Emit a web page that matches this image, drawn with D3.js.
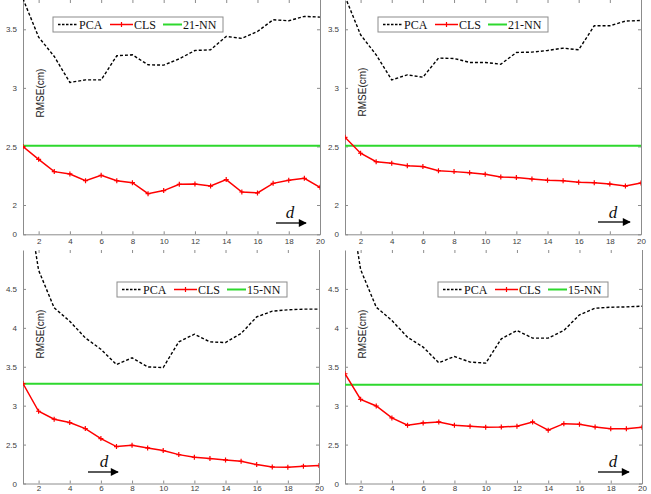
<!DOCTYPE html>
<html><head><meta charset="utf-8">
<script src="https://cdn.jsdelivr.net/npm/d3@7"></script>
<style>html,body{margin:0;padding:0;background:#fff;}svg{display:block;}</style>
</head><body>
<script>
// ---------- data ----------
const dValues = [1,2,3,4,5,6,7,8,9,10,11,12,13,14,15,16,17,18,19,20];
const xTickValues = [2,4,6,8,10,12,14,16,18,20];

const topYTicks = [1.75, 2, 2.5, 3, 3.5];
const topYTickLabels = ["0", "2", "2.5", "3", "3.5"];
const botYTicks = [2, 2.5, 3, 3.5, 4, 4.5];
const botYTickLabels = ["0", "2.5", "3", "3.5", "4", "4.5"];

const pcaTL = [3.76,3.433,3.268,3.046,3.068,3.068,3.274,3.282,3.197,3.194,3.248,3.319,3.325,3.439,3.422,3.481,3.581,3.573,3.61,3.604];
const clsTL = [2.499,2.39,2.285,2.265,2.208,2.254,2.208,2.191,2.097,2.123,2.177,2.179,2.162,2.217,2.111,2.103,2.185,2.211,2.228,2.151];
const nnTL = 2.505;

const pcaTR = [3.78,3.453,3.282,3.068,3.111,3.091,3.254,3.251,3.217,3.217,3.202,3.302,3.305,3.319,3.339,3.325,3.53,3.53,3.57,3.575];
const clsTR = [2.578,2.442,2.37,2.356,2.336,2.328,2.293,2.285,2.276,2.262,2.239,2.234,2.222,2.211,2.208,2.194,2.191,2.179,2.162,2.188];
const nnTR = 2.505;

const pcaBL = [6.0,4.741,4.257,4.085,3.871,3.725,3.528,3.614,3.498,3.49,3.82,3.918,3.82,3.811,3.927,4.141,4.214,4.231,4.24,4.24];
const clsBL = [3.284,2.928,2.826,2.783,2.706,2.577,2.474,2.491,2.457,2.423,2.371,2.337,2.32,2.303,2.286,2.243,2.213,2.209,2.222,2.23];
const nnBL = 3.28;

const pcaBR = [6.0,4.748,4.265,4.094,3.88,3.752,3.551,3.632,3.56,3.547,3.859,3.966,3.868,3.868,3.966,4.167,4.252,4.265,4.269,4.278];
const clsBR = [3.41,3.081,2.996,2.842,2.748,2.778,2.791,2.748,2.735,2.722,2.726,2.735,2.791,2.684,2.769,2.761,2.726,2.705,2.705,2.722];
const nnBR = 3.27;

const legendLabelsTop = ["PCA", "CLS", "21-NN"];
const legendLabelsBot = ["PCA", "CLS", "15-NN"];

// ---------- layout ----------
const W = 651, H = 494;
const panels = [
  {x0:23, x1:320, y0:0, y1:234.3, dom:[1.75,3.75], ticks:topYTicks, tlabels:topYTickLabels, xpad:4,
   pca:pcaTL, cls:clsTL, nn:nnTL, leg:legendLabelsTop, legX:53, legY:17, dX:290, dY:218, arrow:[276,306,223], labY:93},
  {x0:345, x1:641, y0:0, y1:234.3, dom:[1.75,3.75], ticks:topYTicks, tlabels:topYTickLabels, xpad:4,
   pca:pcaTR, cls:clsTR, nn:nnTR, leg:legendLabelsTop, legX:378, legY:17, dX:613, dY:218, arrow:[598,630,222], labY:92},
  {x0:23, x1:319, y0:250, y1:483.5, dom:[2,5], ticks:botYTicks, tlabels:botYTickLabels, xpad:2,
   pca:pcaBL, cls:clsBL, nn:nnBL, leg:legendLabelsBot, legX:117, legY:282, dX:104, dY:467, arrow:[88,118,472], labY:334},
  {x0:345, x1:642, y0:250, y1:483.5, dom:[2,5], ticks:botYTicks, tlabels:botYTickLabels, xpad:2,
   pca:pcaBR, cls:clsBR, nn:nnBR, leg:legendLabelsBot, legX:438, legY:282, dX:613, dY:467, arrow:[598,629,472], labY:334}
];

const svg = d3.select("body").append("svg").attr("width", W).attr("height", H);
const defs = svg.append("defs");
defs.append("marker").attr("id","arrowhead").attr("viewBox","0 0 10 10")
  .attr("refX",9).attr("refY",5).attr("markerWidth",10).attr("markerHeight",8)
  .attr("markerUnits","userSpaceOnUse").attr("orient","auto")
  .append("path").attr("d","M0,0 L10,5 L0,10 Z").attr("fill","#000");

const axisColor = "#8c8c8c";
const tickTextColor = "#404040";

panels.forEach((p, idx) => {
  const x = d3.scaleLinear().domain([1,20]).range([p.x0, p.x1]);
  const y = d3.scaleLinear().domain(p.dom).range([p.y1, p.y0]);
  const g = svg.append("g");
  const clipId = "clip" + idx;
  defs.append("clipPath").attr("id", clipId).append("rect")
    .attr("x", p.x0).attr("y", p.y0).attr("width", p.x1 - p.x0).attr("height", p.y1 - p.y0);

  const xAxis = d3.axisBottom(x).tickValues(xTickValues).tickSizeInner(-3).tickSizeOuter(0).tickPadding(p.xpad);
  const gx = g.append("g").attr("transform", `translate(0,${p.y1})`).call(xAxis);
  const gxt = g.append("g").attr("transform", `translate(0,${p.y0})`)
    .call(d3.axisTop(x).tickValues(xTickValues).tickSizeInner(-3).tickSizeOuter(0).tickFormat(""));
  gxt.select(".domain").remove();

  const yAxisL = d3.axisLeft(y).tickValues(p.ticks).tickSizeInner(-3).tickSizeOuter(0).tickPadding(6)
    .tickFormat((d,i) => p.tlabels[i]);
  const gy = g.append("g").attr("transform", `translate(${p.x0},0)`).call(yAxisL);
  const gyr = g.append("g").attr("transform", `translate(${p.x1},0)`)
    .call(d3.axisRight(y).tickValues(p.ticks).tickSizeInner(-3).tickSizeOuter(0).tickFormat(""));

  [gx, gxt, gy, gyr].forEach(a => {
    a.selectAll(".domain").attr("stroke", axisColor).attr("stroke-width", 1);
    a.selectAll(".tick line").attr("stroke", axisColor);
    a.selectAll(".tick text").attr("fill", tickTextColor)
      .style("font-family", "Liberation Sans, Arial, sans-serif").style("font-size", "8px");
  });

  const plot = g.append("g").attr("clip-path", `url(#${clipId})`);
  plot.append("line").attr("x1", x(1)).attr("x2", x(20)).attr("y1", y(p.nn)).attr("y2", y(p.nn))
    .attr("stroke", "#2ed82e").attr("stroke-width", 2);
  const line = d3.line().x((d,i) => x(dValues[i])).y(d => y(d));
  plot.append("path").datum(p.pca).attr("d", line).attr("fill","none")
    .attr("stroke","#000").attr("stroke-width",1.4).attr("stroke-dasharray","3,2");
  plot.append("path").datum(p.cls).attr("d", line).attr("fill","none")
    .attr("stroke","#ff0000").attr("stroke-width",1.5);
  plot.selectAll(".mk").data(p.cls).enter().append("path")
    .attr("d", (d,i) => `M${x(dValues[i])-2.5},${y(d)}h5M${x(dValues[i])},${y(d)-2.5}v5`)
    .attr("stroke","#ff0000").attr("stroke-width",1.2);

  g.append("text").attr("transform", `translate(${p.x0 + 17},${p.labY}) rotate(-90)`)
    .attr("text-anchor","middle").attr("dominant-baseline","central")
    .style("font-family","Liberation Sans, Arial, sans-serif").style("font-size","10px")
    .attr("fill","#222").text("RMSE(cm)");

  const lg = g.append("g").attr("transform", `translate(${p.legX},${p.legY})`);
  lg.append("rect").attr("x",0).attr("y",0).attr("width",170).attr("height",15)
    .attr("fill","#fff").attr("stroke","#8c8c8c").attr("stroke-width",1);
  const cy = 7.5;
  lg.append("line").attr("x1",5).attr("x2",25).attr("y1",cy).attr("y2",cy)
    .attr("stroke","#000").attr("stroke-width",1.4).attr("stroke-dasharray","2.5,1.5");
  lg.append("line").attr("x1",57).attr("x2",80).attr("y1",cy).attr("y2",cy)
    .attr("stroke","#ff0000").attr("stroke-width",1.5);
  lg.append("path").attr("d",`M66,${cy}h5M68.5,${cy-2.5}v5`).attr("stroke","#ff0000").attr("stroke-width",1.2);
  lg.append("line").attr("x1",110).attr("x2",129).attr("y1",cy).attr("y2",cy)
    .attr("stroke","#2ed82e").attr("stroke-width",2);
  const lx = [26, 81, 130];
  p.leg.forEach((t,i) => {
    lg.append("text").attr("x", lx[i]).attr("y", cy + 4)
      .style("font-family","Liberation Serif, Times New Roman, serif").style("font-size","12px")
      .attr("fill","#111").text(t);
  });

  g.append("text").attr("x", p.dX).attr("y", p.dY).attr("text-anchor","middle")
    .style("font-family","Liberation Serif, Times New Roman, serif").style("font-size","17px")
    .style("font-style","italic").attr("fill","#111").text("d");
  g.append("line").attr("x1", p.arrow[0]).attr("x2", p.arrow[1]).attr("y1", p.arrow[2]).attr("y2", p.arrow[2])
    .attr("stroke","#000").attr("stroke-width",1.3).attr("marker-end","url(#arrowhead)");
});
</script>
</body></html>
